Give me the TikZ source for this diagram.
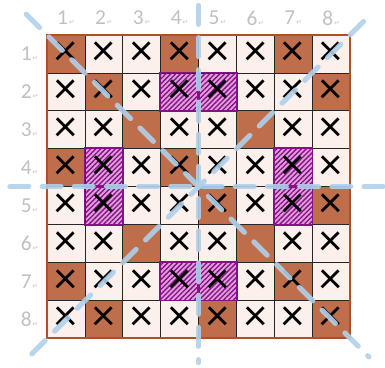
\documentclass[tikz,border=0pt]{standalone}
\usepackage{fontspec}
\setmainfont{Carlito}
\newfontfamily\markfont{DejaVu Sans}
\usepackage{tikz}
\usetikzlibrary{patterns.meta}
\usetikzlibrary{calc}
\definecolor{brownsq}{RGB}{190,110,75}
\definecolor{lightsq}{RGB}{251,240,235}
\definecolor{pinksq}{RGB}{222,160,216}
\definecolor{purpleln}{RGB}{135,15,135}
\definecolor{framebrown}{RGB}{172,80,40}
\definecolor{axisblue}{RGB}{176,208,234}
\definecolor{labelgray}{RGB}{192,192,192}

\begin{document}
\begin{tikzpicture}[
  cell/.style={draw=black!85, line width=0.5pt, minimum size=1cm, inner sep=0pt,
               font=\fontsize{34}{34}\selectfont},
  cellB/.style={cell, fill=brownsq},
  cellb/.style={cell, fill=brownsq},
  cellx/.style={cell, fill=lightsq},
  cellP/.style={cell, fill=pinksq,
                postaction={pattern={Lines[angle=45,distance=2.6pt,line width=1pt]},
                            pattern color=purpleln}},
  purpleframe/.style={draw=purpleln, line width=1.4pt},
  numlabel/.style={text=labelgray, font=\fontsize{16}{16}\selectfont, inner sep=0pt},
  axisline/.style={draw=axisblue, line width=3.8pt, line cap=round, opacity=0.9,
                   dash pattern=on 0.5cm off 0.35cm}
]

\useasboundingbox (-1.241,0.924) rectangle (8.924,-8.766);

%---------------------------------------
% Board: B brown with cross, b brown, x light with cross, P hatched with cross
%---------------------------------------
\foreach \r/\cells in {1/{B,x,x,B,x,x,B,x},
                       2/{x,B,x,P,P,x,x,B},
                       3/{x,x,b,x,x,b,x,x},
                       4/{B,P,x,B,x,x,P,x},
                       5/{x,P,x,x,B,x,P,B},
                       6/{x,x,b,x,x,b,x,x},
                       7/{B,x,x,P,P,x,B,x},
                       8/{x,B,x,x,B,x,x,B}}
  \foreach \t [count=\c] in \cells
    \node[cell\t] (c-\r-\c) at (\c-0.5,0.5-\r) {\if\t b\else ×\fi};

% hatched squares get their frame on top
\foreach \n in {c-2-4,c-2-5,c-4-2,c-4-7,c-5-2,c-5-7,c-7-4,c-7-5}
  \draw[purpleframe] (\n.south west) rectangle (\n.north east);

% outer frame
\draw[framebrown, line width=1.3pt] (c-1-1.north west) rectangle (c-8-8.south east);

%---------------------------------------
% Numbers
%---------------------------------------
\foreach \i in {1,...,8} {
  \node[numlabel] (col\i) at (\i-0.5,0.45)
      {\i{\markfont\fontsize{5}{5}\selectfont\,↵}};
  \node[numlabel] (row\i) at (-0.46,0.5-\i)
      {\i{\markfont\fontsize{5}{5}\selectfont\,↵}};
}

%---------------------------------------
% Symmetry axes
%---------------------------------------
\coordinate (vtop) at (4,0.78);
\coordinate (vbot) at (4,-8.65);
\coordinate (hleft) at (-0.98,-4);
\coordinate (hright) at (8.92,-4);
\coordinate (dtl) at (-0.55,0.55);
\coordinate (dbr) at (8.5,-8.5);
\coordinate (dbl) at (-0.4,-8.42);
\coordinate (dtr) at (8.6,0.6);

\draw[axisline] (vtop) -- (vbot);
\draw[axisline] (hleft) -- (hright);
\draw[axisline] (dtl) -- (dbr);
\draw[axisline] (dbl) -- (dtr);

\end{tikzpicture}
\end{document}
